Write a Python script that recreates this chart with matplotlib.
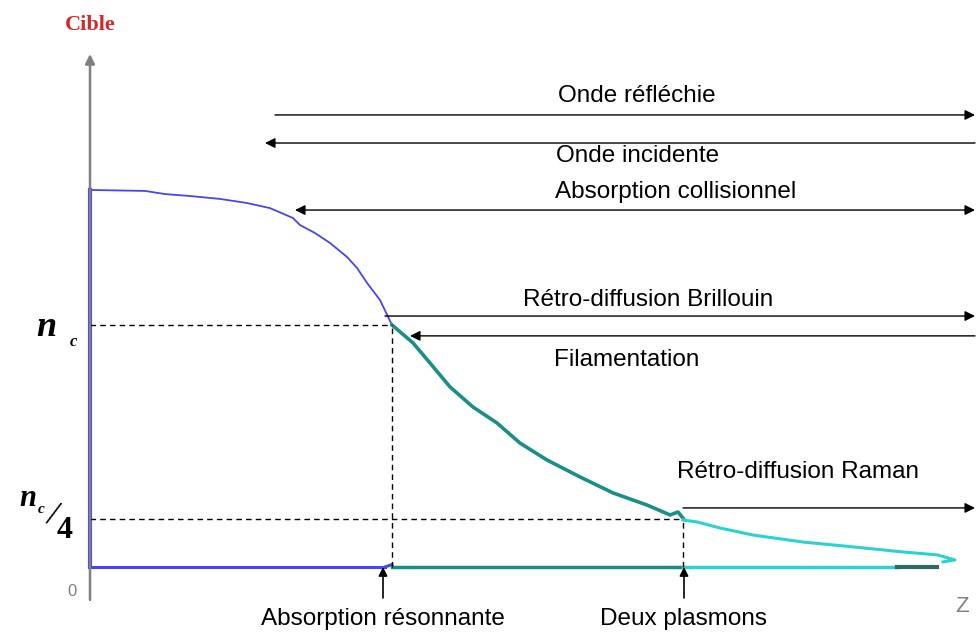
import numpy as np
import matplotlib.pyplot as plt

# density profile n(z), n in units of n_c, z in arbitrary units
z_blue = [0, 5.5, 7.5, 10, 13, 15.7, 18, 20.3, 21, 22.5, 24, 25.7, 26.7, 27.7, 29, 30.2]
n_blue = [1.558, 1.554, 1.541, 1.533, 1.521, 1.504, 1.483, 1.442, 1.413, 1.380, 1.339, 1.281,
          1.236, 1.174, 1.103, 1.0]
z_teal = [30.2, 32.3, 34.0, 36.0, 38.3, 40.7, 43.0, 45.7, 49.0, 52.3, 55.7, 58.0, 58.8, 59.3]
n_teal = [1.0, 0.926, 0.843, 0.744, 0.661, 0.595, 0.512, 0.442, 0.372, 0.306, 0.256, 0.215,
          0.227, 0.202]
z_cyan = [59.3, 60.7, 63, 66.3, 71.3, 76.3, 81.3, 84.7, 86.5, 85.3]
n_cyan = [0.194, 0.186, 0.161, 0.132, 0.103, 0.083, 0.062, 0.050, 0.029, 0.021]

n_c = 1.0
n_c4 = 0.2
z_res = 30.2      # absorption resonnante
z_2p = 59.3       # deux plasmons
z_end = 88.5

# (label, y, z_start, z_end, style, text z, text baseline)
processes = [
    ('Onde réfléchie', 1.868, 18.5, z_end, '-|>', 54.7, 1.921),
    ('Onde incidente', 1.752, z_end, 17.5, '-|>', 54.8, 1.674),
    ('Absorption collisionnel', 1.475, 20.5, z_end, '<|-|>', 58.6, 1.525),
    ('Rétro-diffusion Brillouin', 1.037, 29.5, z_end, '-|>', 55.8, 1.079),
    ('Filamentation', 0.955, z_end, 32.0, '-|>', 53.7, 0.831),
    ('Rétro-diffusion Raman', 0.244, z_2p, z_end, '-|>', 70.8, 0.368),
]

blue = '#4646f0'
teal = '#1a8f88'
cyan = '#2ad2d2'
grey = '#808080'

fig = plt.figure(figsize=(9.77, 6.34), dpi=100)
ax = fig.add_axes([0, 0, 1, 1])
ax.set_xlim(-9, 88.7)
ax.set_ylim(-0.277, 2.343)
ax.axis('off')
font = 'Liberation Sans'
fs = 17.5

# axes of the sketch
ax.annotate('', xy=(z_end + 0.3, 0), xytext=(-8, 0),
            arrowprops=dict(arrowstyle='-|>', color=grey, lw=1.8, mutation_scale=14,
                            shrinkA=0, shrinkB=0))
ax.annotate('', xy=(0, 2.12), xytext=(0, -0.136),
            arrowprops=dict(arrowstyle='-|>', color=grey, lw=1.8, mutation_scale=14,
                            shrinkA=0, shrinkB=0))

# baseline segments
ax.plot([0, 29.5], [0, 0], color=blue, lw=2.2)
ax.plot([29.5, 30.2], [0, 0.01], color=blue, lw=2.2)
ax.plot([30.2, z_2p], [0, 0], color=teal, lw=2.5)
ax.plot([z_2p, 80.7], [0, 0], color=cyan, lw=2.5)
ax.plot([80.7, 84.7], [0, 0], color='#2c6a66', lw=3)
ax.plot([0, 0], [0, n_blue[0]], color=blue, lw=3)

# profile
ax.plot(z_blue, n_blue, color=blue, lw=1.3)
ax.plot(z_teal, n_teal, color=teal, lw=2.6)
ax.plot(z_cyan, n_cyan, color=cyan, lw=2.2)

# n_c and n_c/4 guides
for zz, nn in [(z_res, n_c), (z_2p, n_c4)]:
    ax.plot([0, zz], [nn, nn], color='black', lw=1, ls=(0, (4, 3)))
    ax.plot([zz, zz], [0, nn], color='black', lw=1, ls=(0, (4, 3)))

# process arrows
for label, y, z0, z1, style, tx, ty in processes:
    ax.annotate('', xy=(z1, y), xytext=(z0, y),
                arrowprops=dict(arrowstyle=style, color='black', lw=1, mutation_scale=15,
                                shrinkA=0, shrinkB=0))
    ax.text(tx, ty, label, ha='center', va='baseline', fontsize=fs, family=font)

# bottom markers
for zz, label in [(29.3, 'Absorption résonnante'), (59.4, 'Deux plasmons')]:
    ax.annotate('', xy=(zz, 0), xytext=(zz, -0.128),
                arrowprops=dict(arrowstyle='-|>', color='black', lw=1.2, mutation_scale=13,
                                shrinkA=0, shrinkB=0))
    ax.text(zz, -0.240, label, ha='center', va='baseline', fontsize=fs, family=font)

ax.text(0, 2.24, 'Cible', ha='center', va='center', fontsize=16, color='#d42a2a',
        family='Liberation Serif', fontweight='bold')
ax.text(-1.8, -0.103, '0', ha='center', va='center', fontsize=12, color=grey, family=font)
ax.text(87.2, -0.165, 'Z', ha='center', va='center', fontsize=16, color=grey, family=font)

# n_c labels
serif = 'Liberation Serif'
ax.text(-4.4, 0.988, 'n', ha='center', va='center', fontsize=26, family=serif,
        fontweight='bold', fontstyle='italic')
ax.text(-1.7, 0.93, 'c', ha='center', va='center', fontsize=12, family=serif,
        fontweight='bold', fontstyle='italic')
ax.text(-6.2, 0.285, 'n', ha='center', va='center', fontsize=22, family=serif,
        fontweight='bold', fontstyle='italic')
ax.text(-4.9, 0.236, 'c', ha='center', va='center', fontsize=11, family=serif,
        fontweight='bold', fontstyle='italic')
ax.text(-3.8, 0.21, '/', ha='center', va='center', fontsize=26, family=serif,
        rotation=-18)
ax.text(-2.5, 0.149, '4', ha='center', va='center', fontsize=23, family=serif,
        fontweight='bold')

fig.savefig('out.png', dpi=100)
